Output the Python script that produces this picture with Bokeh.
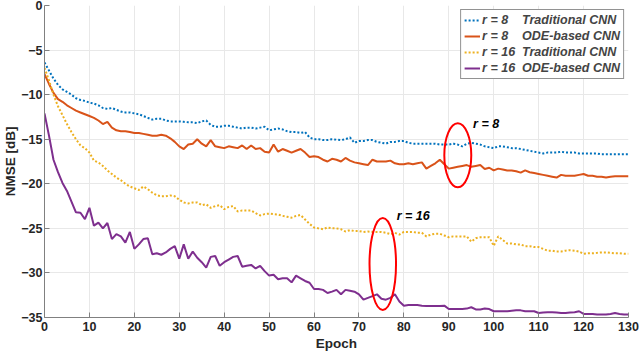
from bokeh.plotting import figure
from bokeh.models import Legend, LegendItem, FixedTicker, Range1d
from bokeh.core.properties import value
from bokeh.embed import file_html
from bokeh.resources import INLINE

epochs = list(range(131))

r8_traditional = [
    -6.4, -7.3, -8.2, -8.9, -9.4, -9.7, -10.0, -10.4, -10.6, -10.7,
    -10.9, -11.0, -11.2, -11.5, -11.6, -11.5, -11.7, -11.9, -12.0, -12.0,
    -12.1, -12.2, -12.4, -12.6, -12.8, -12.7, -12.7, -12.9, -13.0, -13.0,
    -13.0, -13.05, -13.1, -13.1, -13.2, -13.0, -12.9, -13.4, -13.6, -13.6,
    -13.5, -13.5, -13.6, -13.7, -13.8, -13.7, -13.7, -13.8, -13.7, -13.6,
    -14.0, -13.9, -13.8, -13.9, -14.1, -14.2, -14.2, -14.3, -14.2, -14.8,
    -15.0, -15.0, -15.1, -15.1, -15.0, -15.05, -15.1, -15.0, -14.8, -15.4,
    -15.2, -15.2, -15.1, -15.1, -15.3, -15.4, -15.5, -15.3, -15.3, -15.2,
    -15.2, -15.4, -15.5, -15.5, -15.5, -15.5, -15.5, -15.5, -15.6, -15.6,
    -15.6, -15.5, -15.6, -15.8, -15.5, -15.4, -15.5, -15.6, -15.8, -15.9,
    -16.0, -15.8, -15.8, -15.9, -16.0, -16.0, -16.1, -16.2, -16.3, -16.4,
    -16.5, -16.6, -16.5, -16.5, -16.5, -16.4, -16.5, -16.5, -16.5, -16.6,
    -16.6, -16.6, -16.6, -16.6, -16.7, -16.7, -16.7, -16.7, -16.7, -16.7,
    -16.7,
]

r8_ode = [
    -7.7, -8.8, -9.8, -10.5, -10.8, -11.2, -11.5, -11.8, -12.0, -12.2,
    -12.4, -12.6, -12.9, -13.3, -13.05, -13.7, -14.0, -14.1, -14.1, -14.2,
    -14.3, -14.3, -14.4, -14.5, -14.6, -14.6, -14.5, -14.6, -14.9, -15.3,
    -15.8, -16.1, -15.6, -15.5, -15.0, -15.5, -15.8, -15.1, -15.8, -15.9,
    -16.0, -15.8, -15.9, -16.0, -15.7, -16.1, -15.7, -16.1, -16.0, -16.4,
    -16.5, -15.6, -16.4, -16.1, -16.3, -16.5, -16.3, -16.1, -16.5, -17.0,
    -16.9, -17.0, -17.3, -17.5, -17.2, -17.3, -17.5, -17.1, -17.4, -17.6,
    -17.7, -17.8, -17.9, -17.3, -17.5, -17.5, -17.5, -17.4, -17.7, -17.8,
    -17.8, -17.7, -17.8, -17.7, -17.6, -18.3, -18.0, -17.7, -17.3, -17.8,
    -18.3, -18.2, -18.1, -18.0, -17.9, -18.1, -18.0, -17.9, -18.35, -18.2,
    -18.5, -18.3, -18.4, -18.5, -18.5, -18.6, -18.75, -18.5, -18.7, -18.8,
    -18.9, -19.0, -19.1, -19.2, -19.3, -19.0, -19.1, -19.1, -19.1, -19.0,
    -18.9, -19.1, -19.1, -19.2, -19.2, -19.3, -19.2, -19.15, -19.15, -19.15,
    -19.15,
]

r16_traditional = [
    -7.0, -8.4, -10.0, -11.3, -12.3, -13.3, -14.2, -15.0, -15.7, -16.0,
    -16.5, -17.4, -17.6, -18.0, -18.5, -18.9, -19.3, -19.6, -20.0, -20.3,
    -20.5, -20.7, -20.3, -20.6, -21.0, -21.3, -21.4, -21.4, -21.3, -21.4,
    -21.8, -22.1, -22.2, -22.1, -22.1, -22.4, -22.3, -22.7, -22.5, -22.4,
    -22.85, -22.6, -22.5, -23.1, -23.0, -23.0, -23.0, -23.3, -23.55, -23.4,
    -23.35, -23.4, -23.45, -23.6, -23.7, -23.8, -23.6, -23.5, -24.0, -24.5,
    -24.9, -25.0, -25.1, -24.9, -25.0, -25.0, -25.1, -25.35, -25.2, -25.3,
    -25.3, -25.4, -25.35, -25.4, -25.4, -25.4, -25.5, -25.65, -25.5, -25.7,
    -25.4, -25.4, -25.4, -25.5, -25.5, -25.9, -25.7, -25.6, -25.6, -25.8,
    -26.0, -25.9, -25.9, -25.9, -25.9, -26.5, -26.1, -26.0, -26.0, -26.0,
    -26.96, -25.9, -26.3, -26.7, -26.7, -26.8, -26.8, -27.0, -27.0, -27.1,
    -27.1, -27.3, -27.5, -27.5, -27.6, -27.6, -27.5, -27.45, -27.5, -27.6,
    -27.85, -27.8, -27.8, -27.75, -27.7, -27.7, -27.75, -27.8, -27.8, -27.85,
    -27.85,
]

r16_ode = [
    -12.1, -14.6, -17.3, -18.7, -19.9, -20.8, -22.0, -23.2, -23.25, -23.97,
    -22.7, -24.7, -24.35, -25.0, -24.4, -26.2, -25.65, -25.9, -26.6, -25.4,
    -27.3, -26.8, -26.2, -26.1, -27.9, -27.8, -27.96, -27.7, -27.3, -27.0,
    -28.4, -26.8, -28.4, -27.6, -28.3, -28.8, -29.4, -28.2, -28.1, -29.2,
    -28.8, -28.5, -28.2, -28.1, -29.3, -29.2, -29.1, -29.5, -29.2, -29.8,
    -30.3, -30.2, -30.7, -30.6, -30.6, -31.06, -30.3, -30.6, -30.9, -31.1,
    -31.8, -31.8, -31.9, -32.25, -32.1, -31.9, -32.4, -31.9, -32.0, -32.1,
    -32.4, -33.0, -32.8, -32.6, -32.4, -32.9, -33.0, -32.8, -32.4, -33.2,
    -33.67, -33.6, -33.6, -33.6, -33.67, -33.7, -33.7, -33.7, -33.7, -33.67,
    -34.05, -34.05, -34.05, -34.05, -34.0, -33.85, -34.1, -34.1, -34.0, -34.05,
    -34.3, -34.3, -34.3, -34.3, -34.25, -34.2, -34.2, -34.3, -34.3, -34.3,
    -34.5, -34.45, -34.4, -34.4, -34.45, -34.5, -34.5, -34.45, -34.4, -34.3,
    -34.6, -34.6, -34.6, -34.65, -34.65, -34.65, -34.6, -34.5, -34.6, -34.65,
    -34.65,
]

legend_labels = [
    "r = 8\u00a0\u00a0\u00a0\u00a0Traditional CNN",
    "r = 8\u00a0\u00a0\u00a0\u00a0ODE-based CNN",
    "r = 16\u00a0\u00a0Traditional CNN",
    "r = 16\u00a0\u00a0ODE-based CNN",
]

x_ticks = list(range(0, 131, 10))
y_ticks = [0, -5, -10, -15, -20, -25, -30, -35]

# annotation ellipses: centre epoch, centre NMSE, width (epochs), height (dB)
ellipse_x = [92.0, 75.3]
ellipse_y = [-16.8, -29.0]
ellipse_w = [6.0, 5.9]
ellipse_h = [7.2, 10.3]
note_x = [95.4, 78.4]
note_y = [-13.3, -23.6]
note_text = ["r = 8", "r = 16"]

FONT = "Liberation Sans"

p = figure(width=640, height=356, output_backend="svg", toolbar_location=None,
           x_range=Range1d(0, 130), y_range=Range1d(-35, 0),
           min_border_left=30, min_border_right=12, min_border_top=5, min_border_bottom=39)
p.outline_line_color = None
p.background_fill_color = "white"

blue, orange, yellow, purple = "#0072BD", "#D95319", "#EDB120", "#7E2F8E"

l1 = p.line(epochs, r8_traditional, line_color=blue, line_width=2, line_dash="2 2")
l2 = p.line(epochs, r8_ode, line_color=orange, line_width=2)
l3 = p.line(epochs, r16_traditional, line_color=yellow, line_width=2, line_dash="2 2")
l4 = p.line(epochs, r16_ode, line_color=purple, line_width=2)

p.ellipse(x=ellipse_x, y=ellipse_y, width=ellipse_w, height=ellipse_h,
          fill_color=None, line_color="#FF0000", line_width=2)
p.text(x=note_x, y=note_y, text=note_text, text_font=value(FONT),
       text_font_size="12.5px", text_font_style="bold italic", text_color="black",
       text_baseline="middle", text_align="left")

for ax in (p.xaxis[0], p.yaxis[0]):
    ax.major_label_text_font = FONT
    ax.major_label_text_font_style = "bold"
    ax.major_label_text_font_size = "12.5px"
    ax.major_label_text_color = "#262626"
    ax.axis_label_text_font = FONT
    ax.axis_label_text_font_style = "bold"
    ax.axis_label_text_font_size = "13.5px"
    ax.axis_label_text_color = "#262626"
    ax.axis_line_color = "#808080"
    ax.major_tick_line_color = "#808080"
    ax.major_tick_in = 5
    ax.major_tick_out = 0
    ax.minor_tick_line_color = None

p.yaxis.axis_label_standoff = 0
p.yaxis.major_label_standoff = 2
p.xaxis.axis_label_standoff = 2
p.xaxis.major_label_standoff = 4

p.xaxis.axis_label = "Epoch"
p.yaxis.axis_label = "NMSE [dB]"
p.xaxis.ticker = FixedTicker(ticks=x_ticks)
p.yaxis.ticker = FixedTicker(ticks=y_ticks)
p.grid.grid_line_color = "#e8e8e8"
p.grid.grid_line_width = 1

legend = Legend(items=[LegendItem(label=legend_labels[i], renderers=[r])
                       for i, r in enumerate([l1, l2, l3, l4])],
                location="top_right")
legend.label_text_font = FONT
legend.label_text_font_style = "bold italic"
legend.label_text_font_size = "12.5px"
legend.label_height = 14
legend.glyph_height = 14
legend.glyph_width = 16
legend.label_standoff = 2
legend.spacing = 2
legend.padding = 3
legend.margin = 4
legend.border_line_color = "#262626"
legend.border_line_width = 1
legend.background_fill_alpha = 1
p.add_layout(legend)

open("out.html", "w").write(file_html(p, INLINE))
